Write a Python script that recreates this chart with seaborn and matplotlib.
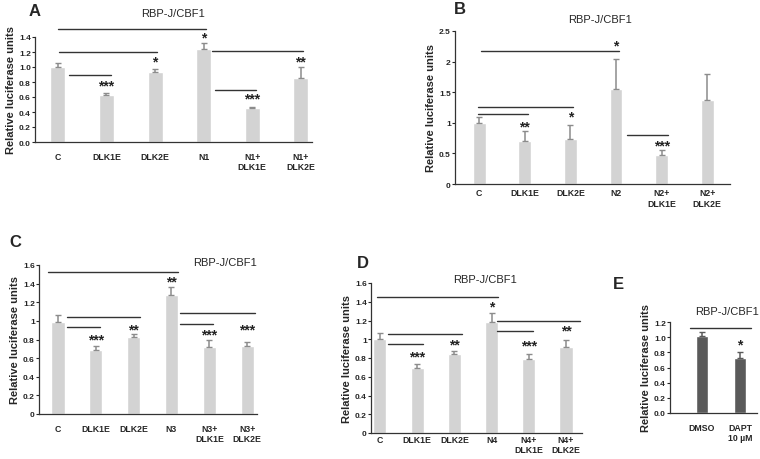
import matplotlib
matplotlib.use('Agg')
import matplotlib.pyplot as plt
import matplotlib.transforms as mtransforms
import seaborn as sns

sns.set_style('ticks')
plt.rcParams['font.family'] = ['Liberation Sans', 'DejaVu Sans']

# ---- data ----
# A: N1
a_labels = ['C', 'DLK1E', 'DLK2E', 'N1', 'N1+\nDLK1E', 'N1+\nDLK2E']
a_means = [1.00, 0.63, 0.93, 1.24, 0.45, 0.85]
a_err = [0.06, 0.03, 0.05, 0.08, 0.02, 0.15]
a_stars = ['', '***', '*', '*', '***', '**']
a_star_y = [0, 0.77, 1.09, 1.41, 0.59, 1.09]
a_brackets = [(0, 3.05, 1.51), (0.02, 2.04, 1.20), (0.23, 1.09, 0.89),
              (3.17, 5.04, 1.22), (3.23, 4.07, 0.70)]

# B: N2
b_labels = ['C', 'DLK1E', 'DLK2E', 'N2', 'N2+\nDLK1E', 'N2+\nDLK2E']
b_means = [1.00, 0.71, 0.73, 1.56, 0.48, 1.37]
b_err = [0.09, 0.15, 0.23, 0.49, 0.08, 0.42]
b_stars = ['', '**', '*', '*', '***', '']
b_star_y = [0, 0.96, 1.11, 2.28, 0.65, 0]
b_brackets = [(0.04, 3.07, 2.17), (-0.02, 2.06, 1.26), (-0.02, 1.07, 1.15),
              (3.25, 4.15, 0.80)]

# C: N3
c_labels = ['C', 'DLK1E', 'DLK2E', 'N3', 'N3+\nDLK1E', 'N3+\nDLK2E']
c_means = [0.99, 0.69, 0.83, 1.28, 0.72, 0.73]
c_err = [0.07, 0.04, 0.03, 0.08, 0.07, 0.04]
c_stars = ['', '***', '**', '**', '***', '***']
c_star_y = [0, 0.81, 0.92, 1.43, 0.86, 0.92]
c_brackets = [(-0.26, 3.17, 1.52), (0.23, 2.17, 1.04), (0.23, 1.11, 0.93),
              (3.23, 5.21, 1.08), (3.23, 4.10, 0.97)]

# D: N4
d_labels = ['C', 'DLK1E', 'DLK2E', 'N4', 'N4+\nDLK1E', 'N4+\nDLK2E']
d_means = [1.00, 0.69, 0.84, 1.18, 0.79, 0.92]
d_err = [0.07, 0.05, 0.03, 0.10, 0.05, 0.07]
d_stars = ['', '***', '**', '*', '***', '**']
d_star_y = [0, 0.83, 0.95, 1.36, 0.94, 1.10]
d_brackets = [(-0.08, 3.17, 1.45), (0.22, 2.20, 1.06), (0.22, 1.16, 0.95),
              (3.14, 5.38, 1.20), (3.14, 4.11, 1.09)]

# E: DAPT
e_labels = ['DMSO', 'DAPT\n10 µM']
e_means = [1.01, 0.72]
e_err = [0.06, 0.08]
e_stars = ['', '*']
e_star_y = [0, 0.91]
e_brackets = [(-0.32, 1.29, 1.12)]

fig = plt.figure(figsize=(7.6, 4.6), dpi=100)


def panel(rect, labels, means, err, stars, star_y, brackets, ylim, yticks,
          fmt, xlim, width, xpad, color='#d3d3d3', ecolor='#8c8c8c'):
    ax = fig.add_axes(rect)
    sns.barplot(x=labels, y=means, color=color, width=width, errorbar=None,
                saturation=1, ax=ax)
    ax.errorbar(range(len(means)), means, yerr=[[0] * len(err), err], fmt='none',
                ecolor=ecolor, elinewidth=1.1, capsize=2, capthick=1)
    for x0, x1, y in brackets:
        ax.plot([x0, x1], [y, y], color='#333333', lw=1, clip_on=False)
    # shift so the asterisk glyph is centred on star_y
    tr = mtransforms.offset_copy(ax.transData, fig=fig, y=-3.5, units='points')
    for i, s in enumerate(stars):
        if s:
            ax.text(i, star_y[i], s, ha='center', va='baseline', fontsize=10,
                    fontweight='bold', color='#222222', transform=tr)
    ax.set_xlim(*xlim)
    ax.set_ylim(*ylim)
    ax.set_yticks(yticks)
    ax.set_yticklabels([fmt(v) for v in yticks], fontsize=6, fontweight='bold')
    ax.set_xticks(range(len(labels)))
    ax.set_xticklabels(labels, fontsize=6.3, fontweight='bold')
    ax.tick_params(axis='x', length=0, pad=xpad)
    ax.tick_params(axis='y', length=2, pad=1)
    ax.set_ylabel('Relative luciferase units', fontsize=8, fontweight='bold',
                  labelpad=2)
    for side in ['top', 'right']:
        ax.spines[side].set_visible(False)
    for side in ['left', 'bottom']:
        ax.spines[side].set_color('#333333')
        ax.spines[side].set_linewidth(0.9)
    return ax


one_dec = lambda v: f'{v:.1f}'
plain = lambda v: f'{v:g}'

panel([35 / 760, 1 - 143 / 460, 277 / 760, 105 / 460], a_labels, a_means, a_err,
      a_stars, a_star_y, a_brackets, (0, 1.4),
      [0, 0.2, 0.4, 0.6, 0.8, 1.0, 1.2, 1.4], one_dec, (-0.47, 5.23), 0.31, 7)
panel([455 / 760, 1 - 185 / 460, 275 / 760, 153 / 460], b_labels, b_means, b_err,
      b_stars, b_star_y, b_brackets, (0, 2.5),
      [0, 0.5, 1, 1.5, 2, 2.5], plain, (-0.53, 5.5), 0.28, 3)
panel([39 / 760, 1 - 415 / 460, 218 / 760, 149 / 460], c_labels, c_means, c_err,
      c_stars, c_star_y, c_brackets, (0, 1.6),
      [0, 0.2, 0.4, 0.6, 0.8, 1, 1.2, 1.4, 1.6], plain, (-0.5, 5.26), 0.35, 7)
panel([371 / 760, 1 - 434 / 460, 211 / 760, 150 / 460], d_labels, d_means, d_err,
      d_stars, d_star_y, d_brackets, (0, 1.6),
      [0, 0.2, 0.4, 0.6, 0.8, 1, 1.2, 1.4, 1.6], plain, (-0.24, 5.43), 0.35, 1.5)
panel([670 / 760, 1 - 414 / 460, 87 / 760, 91 / 460], e_labels, e_means, e_err,
      e_stars, e_star_y, e_brackets, (0, 1.2),
      [0, 0.2, 0.4, 0.6, 0.8, 1.0, 1.2], one_dec, (-0.84, 1.45), 0.3, 7,
      color='#5a5a5a', ecolor='#5a5a5a')

# titles and panel letters
for x, y, ha in [(173, 14, 'center'), (600, 20, 'center'), (257, 263, 'right'),
                 (485, 280, 'center'), (727, 312, 'center')]:
    fig.text(x / 760, 1 - y / 460, 'RBP-J/CBF1', ha=ha, va='center', fontsize=8)
for x, y, s in [(35, 12, 'A'), (460, 10, 'B'), (15, 243, 'C'), (363, 263, 'D'),
                (618, 285, 'E')]:
    fig.text(x / 760, 1 - y / 460, s, ha='center', va='center', fontsize=12,
             fontweight='bold')

fig.savefig('out.png', dpi=100)
